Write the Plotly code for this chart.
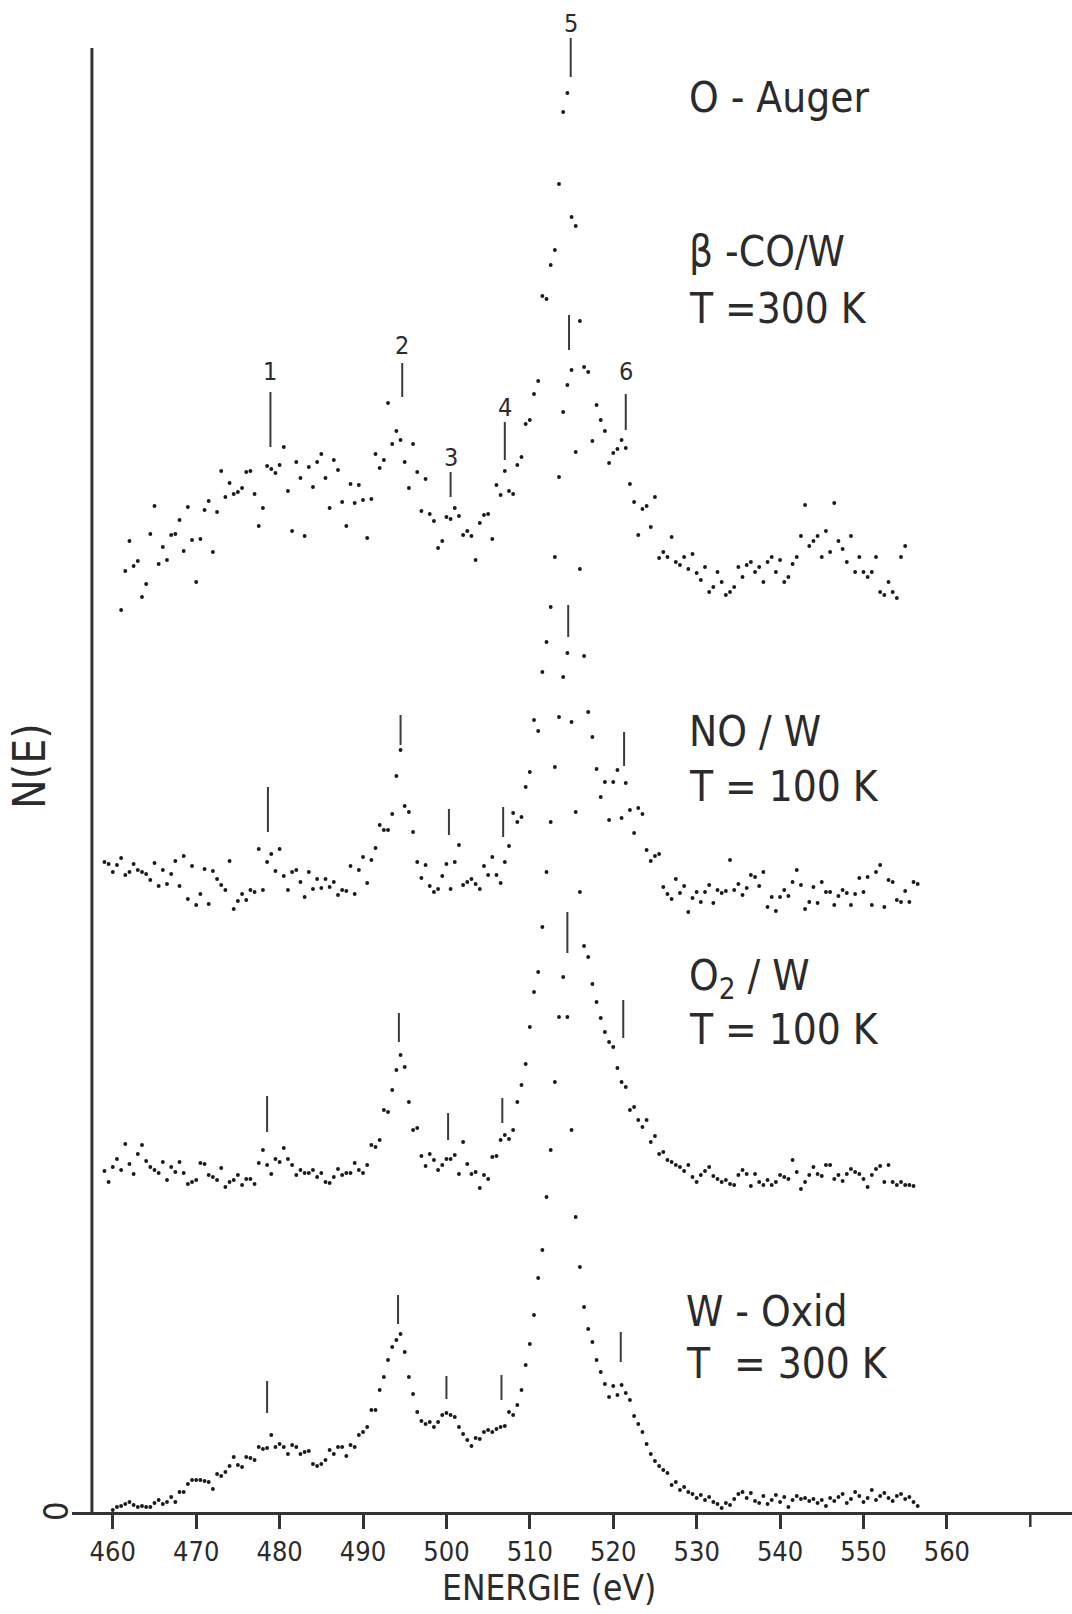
import plotly.graph_objects as go

STEP = 0.5  # energy spacing of the recorded points (eV)

# ---- spectra: N(E) (arbitrary units, common zero) ----
co_start = 461.0   # beta-CO/W, T = 300 K
co_w = [902, 941, 971, 946, 951, 915, 928, 978, 1006, 948, 965, 952, 977, 978, 992, 961, 1005, 972, 930, 973,
        1002, 1011, 960, 1000, 1041, 1015, 1029, 1018, 1020, 1024, 1040, 1041, 1018, 986, 1004, 1046, 1043, 1039, 1047, 1065,
        1021, 981, 1050, 1034, 976, 1045, 1025, 1050, 1058, 1034, 1004, 1052, 1042, 1010, 986, 1028, 1009, 1027, 1012, 974,
        1013, 1058, 1044, 1052, 1109, 1068, 1081, 1072, 1050, 1024, 1068, 1040, 1001, 1033, 998, 991, 964, 971, 995, 993,
        1004, 996, 977, 981, 976, 952, 989, 997, 998, 973, 1027, 1017, 1041, 1021, 1018, 1047, 1055, 1088, 1092, 1118,
        1131, 1216, 1213, 1247, 1262, 1328, 1400, 1419, 1295, 1286, 1191, 1145, 1140, 1071, 1107, 1092, 1081, 1049, 1059, 1063,
        1072, 1064, 1028, 1010, 977, 1003, 1006, 985, 1015, 954,
        960, 955, 975, 950, 947, 955, 943, 958, 939, 932,
        945, 920, 925, 940, 930, 917, 920, 925, 945, 935,
        947, 950, 940, 945, 930, 950, 955, 940, 952, 930,
        935, 948, 955, 976, 1007, 966, 971, 976, 955, 981,
        960, 1009, 971, 963, 950, 976, 940, 955, 940, 935,
        940, 955, 920, 917, 930, 920, 914, 955, 966]

no_start = 459.0   # NO/W, T = 100 K
no_w = [650, 648, 640, 647, 654, 637, 640, 648, 642, 640, 638, 632, 649, 626, 642, 628, 638, 651, 626, 656,
        613, 646, 607, 618, 643, 608, 641, 633, 627, 622, 651, 603, 611, 618, 612, 622, 620, 663, 622, 650,
        658, 641, 663, 636, 622, 640, 642, 630, 615, 640, 623, 633, 624, 633, 625, 630, 617, 622, 621, 646,
        618, 642, 655, 629, 652, 664, 687, 682, 682, 698, 736, 762, 706, 700, 680, 650, 634, 647, 626, 620,
        623, 636, 648, 623, 650, 667, 627, 630, 633, 628, 623, 646, 637, 655, 637, 629, 650, 666, 699, 690,
        695, 725, 740, 792, 781, 840, 870, 905, 955, 1035, 1100, 1127, 1142, 1060, 943, 856, 800, 775, 743, 715,
        730, 692, 730, 742, 694, 729, 702, 679, 704, 698, 662, 651, 656, 658, 625, 618, 613, 633, 619, 626,
        600, 614, 620, 610, 620, 627, 609, 622, 619, 621, 652, 622, 628, 617, 624, 637, 635, 626, 640, 605,
        615, 601, 615, 622, 616, 630, 642, 627, 603, 610, 625, 609, 630, 620, 620, 607, 616, 622, 619, 607,
        618, 634, 620, 635, 607, 640, 647, 605, 632, 630, 612, 610, 621, 610, 630, 628]

o2_start = 459.0   # O2/W, T = 100 K
o2_w = [341, 330, 345, 353, 342, 368, 348, 338, 358, 367, 351, 345, 342, 339, 350, 332, 345, 340, 350, 339,
        328, 330, 332, 349, 348, 337, 335, 332, 344, 325, 330, 332, 337, 327, 333, 333, 328, 349, 362, 347,
        338, 353, 350, 364, 353, 347, 337, 342, 339, 339, 342, 335, 339, 330, 329, 335, 343, 337, 339, 339,
        349, 342, 339, 347, 367, 365, 372, 402, 400, 422, 442, 457, 445, 410, 382, 384, 356, 346, 358, 352,
        342, 347, 353, 353, 357, 338, 370, 348, 338, 340, 324, 337, 333, 355, 356, 372, 377, 373, 382, 410,
        427, 448, 485, 520, 540, 585, 640, 690, 745, 795, 835, 859, 790, 700, 620, 566, 555, 528, 510, 494,
        480, 470, 465, 444, 430, 425, 402, 405, 392, 385, 392, 370, 376, 358, 360, 352, 350, 347, 345, 341,
        347, 335, 330, 337, 341, 345, 336, 333, 330, 332, 328, 327, 337, 342, 338, 326, 338, 330, 327, 332,
        327, 330, 337, 335, 333, 352, 340, 323, 330, 337, 345, 338, 336, 347, 347, 333, 337, 331, 338, 343,
        340, 338, 333, 325, 337, 343, 346, 330, 347, 330, 327, 330, 327, 327, 326]

ox_start = 460.0   # W-Oxid, T = 300 K
w_oxid = [2, 5, 6, 8, 10, 7, 5, 6, 5, 5, 9, 12, 8, 10, 15, 10, 20, 20, 28, 32,
          32, 32, 31, 30, 23, 38, 36, 40, 46, 55, 47, 45, 55, 54, 52, 65, 63, 64, 77, 65,
          68, 65, 58, 67, 65, 58, 60, 61, 48, 46, 48, 52, 62, 58, 65, 65, 56, 67, 65, 77,
          80, 85, 102, 102, 122, 135, 152, 165, 172, 178, 160, 135, 118, 100, 91, 88, 90, 85, 90, 97,
          99, 97, 95, 85, 78, 72, 66, 74, 73, 80, 82, 80, 83, 85, 86, 100, 97, 107, 122, 147,
          168, 197, 234, 262, 315, 362, 430, 495, 535, 495, 382, 295, 245, 205, 183, 170, 152, 140, 128, 115,
          126, 117, 127, 119, 112, 96, 88, 80, 68, 58, 51, 46, 42, 39, 27, 30, 22, 25, 20, 18,
          14, 17, 12, 15, 10, 8, 4, 9, 7, 13, 18, 20, 14, 19, 11, 9, 16, 8, 12, 17,
          10, 15, 5, 12, 16, 13, 14, 11, 13, 9, 12, 6, 14, 11, 15, 18, 9, 13, 20, 16,
          10, 14, 22, 12, 16, 19, 14, 11, 16, 18, 13, 15, 10, 6]

# ---- peak markers (energy, lower / upper end of the bar) ----
peak_names = ["1", "2", "3", "4", "5", "6"]
co_peak_e = [478.9, 494.7, 500.5, 507.0, 514.9, 521.5]
co_peak_lo = [1065, 1115, 1015, 1052, 1435, 1082]
co_peak_hi = [1120, 1149, 1040, 1090, 1474, 1118]
co_label_y = [1141, 1167, 1055, 1105, 1489, 1141]
no_peak_e = [478.6, 494.5, 500.3, 506.8, 514.7, 521.3]
no_peak_lo = [680, 767, 677, 675, 1162, 746]
no_peak_hi = [725, 797, 703, 705, 1197, 780]
o2_peak_e = [478.5, 494.3, 500.2, 506.7, 514.6, 521.2]
o2_peak_lo = [380, 470, 372, 389, 875, 474]
o2_peak_hi = [416, 499, 399, 414, 907, 512]
ox_peak_e = [478.5, 494.2, 500.0, 506.6, 514.5, 520.9]
ox_peak_lo = [99, 188, 113, 112, 559, 150]
ox_peak_hi = [131, 217, 136, 137, 600, 180]

tick_vals = [460, 470, 480, 490, 500, 510, 520, 530, 540, 550, 560]
tick_text = ["460", "470", "480", "490", "500", "510", "520", "530", "540", "550", "560"]
extra_tick = 570   # unlabeled tick at the right end

labels = [("O - Auger", 1415), ("β -CO/W", 1261), ("T =300 K", 1204),
          ("NO / W", 781), ("T = 100 K", 726),
          ("O<sub>2</sub> / W", 534), ("T = 100 K", 483),
          ("W - Oxid", 201), ("T  = 300 K", 149)]
label_e = [528.9, 528.9, 528.9, 528.8, 528.8, 528.8, 528.8, 528.5, 528.5]

FONT = "DejaVu Sans Condensed, Liberation Sans Narrow, DejaVu Sans, sans-serif"
INK = "#2b2b2b"

fig = go.Figure()

for start, vals in [(co_start, co_w), (no_start, no_w), (o2_start, o2_w), (ox_start, w_oxid)]:
    xs = [start + STEP * i for i in range(len(vals))]
    fig.add_trace(go.Scatter(x=xs, y=vals, mode="markers",
                             marker=dict(size=3.9, color="#1a1a1a", line=dict(width=0)),
                             hoverinfo="skip", showlegend=False, cliponaxis=False))

mx, my = [], []
for es, los, his in [(co_peak_e, co_peak_lo, co_peak_hi), (no_peak_e, no_peak_lo, no_peak_hi),
                     (o2_peak_e, o2_peak_lo, o2_peak_hi), (ox_peak_e, ox_peak_lo, ox_peak_hi)]:
    for e, lo, hi in zip(es, los, his):
        mx += [e, e, None]
        my += [lo, hi, None]
fig.add_trace(go.Scatter(x=mx, y=my, mode="lines", line=dict(color="#3a3a3a", width=2),
                         hoverinfo="skip", showlegend=False, cliponaxis=False))

ann = []
for name, e, yy in zip(peak_names, co_peak_e, co_label_y):
    ann.append(dict(x=e, y=yy, xref="x", yref="y", text=name, showarrow=False,
                    font=dict(family=FONT, size=25, color=INK), xanchor="center", yanchor="middle"))
for (txt, yy), e in zip(labels, label_e):
    ann.append(dict(x=e, y=yy, xref="x", yref="y", text=txt, showarrow=False,
                    font=dict(family=FONT, size=42, color=INK), xanchor="left", yanchor="middle"))
ann.append(dict(x=0.4774, y=-0.0505, xref="paper", yref="paper", text="ENERGIE (eV)", showarrow=False,
                font=dict(family=FONT, size=35, color=INK), xanchor="center", yanchor="middle"))
ann.append(dict(x=-0.0431, y=746, xref="paper", yref="y", text="N(E)", showarrow=False, textangle=-90,
                font=dict(family=FONT, size=44, color=INK), xanchor="center", yanchor="middle"))
ann.append(dict(x=-0.016, y=0, xref="paper", yref="y", text="0", showarrow=False, textangle=-90,
                font=dict(family=FONT, size=34, color=INK), xanchor="center", yanchor="middle"))

fig.update_layout(
    width=1072, height=1614,
    margin=dict(l=72, r=0, t=0, b=102),
    paper_bgcolor="white", plot_bgcolor="white",
    annotations=ann,
    shapes=[dict(type="line", xref="x", yref="y", x0=457.5, x1=457.5, y0=0, y1=1464,
                 line=dict(color="#333333", width=3)),
            dict(type="line", xref="x", yref="paper", x0=extra_tick, x1=extra_tick, y0=0, y1=-15 / 1512,
                 line=dict(color="#333333", width=2.5))],
    xaxis=dict(range=[455.11, 575.0], showgrid=False, zeroline=False,
               showline=True, linecolor="#333333", linewidth=3,
               ticks="outside", ticklen=14, tickwidth=2.5, tickcolor="#333333",
               tickvals=tick_vals, ticktext=tick_text,
               tickfont=dict(family=FONT, size=27, color=INK)),
    yaxis=dict(range=[0, 1512], visible=False, showgrid=False, zeroline=False),
)

fig.write_html("out.html")
